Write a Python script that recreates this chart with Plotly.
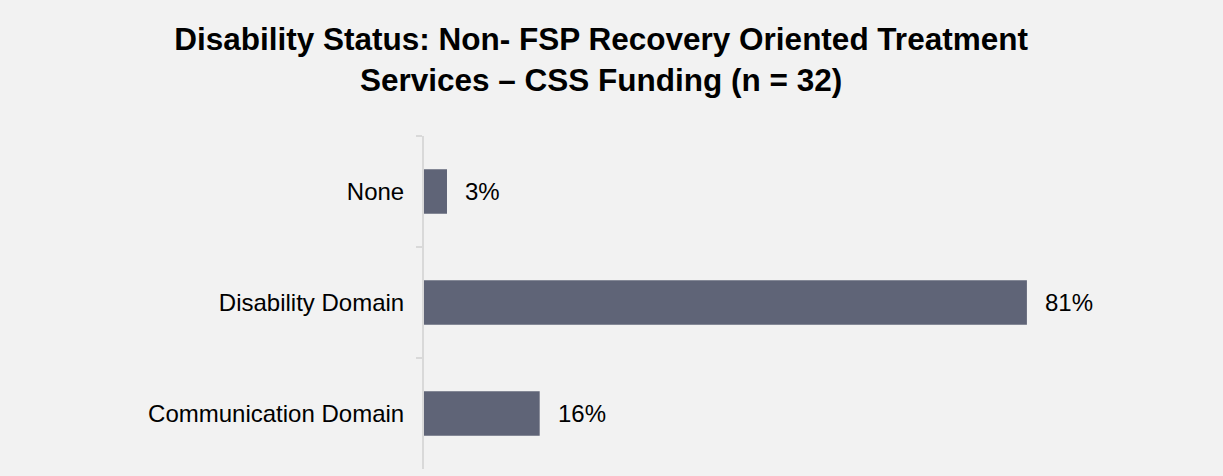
import plotly.graph_objects as go

categories = ["None", "Disability Domain", "Communication Domain"]
values = [3.1, 81.3, 15.6]
labels = ["3%", "81%", "16%"]

title_text = "<b>Disability Status: Non- FSP Recovery Oriented Treatment<br>Services – CSS Funding (n = 32)</b>"

fig = go.Figure()
fig.add_trace(go.Bar(
    x=values, y=categories, orientation="h",
    marker=dict(color="#5f6477", line=dict(width=0)),
    width=0.4, hoverinfo="skip",
))

for v, c, t in zip(values, categories, labels):
    fig.add_annotation(x=v, y=c, text=t, showarrow=False, xanchor="left",
                       xshift=16, font=dict(size=24, color="#000000",
                                             family="Liberation Sans, Arial"))

fig.update_layout(
    width=1223, height=476,
    paper_bgcolor="#f2f2f2", plot_bgcolor="#f2f2f2",
    margin=dict(l=424, r=73, t=136, b=7),
    showlegend=False,
    title=dict(text=title_text, xref="container", x=0.4915, xanchor="center",
               yref="container", y=0.894, yanchor="top",
               font=dict(size=31.5, color="#000000", family="Liberation Sans, Arial")),
    font=dict(family="Liberation Sans, Arial", size=24, color="#000000"),
    xaxis=dict(range=[0, 97.9], visible=False, showgrid=False, zeroline=False),
    yaxis=dict(categoryorder="array", categoryarray=categories, autorange="reversed",
               showline=True, linecolor="#d9d9d9", linewidth=2,
               ticks="outside", tickson="boundaries", ticklen=6, tickcolor="#d9d9d9",
               tickwidth=2, showgrid=False, ticklabelstandoff=13,
               tickfont=dict(size=24, color="#000000", family="Liberation Sans, Arial")),
)

fig.write_html("out.html", config={"displayModeBar": False},
               post_script="document.body.style.margin='0';")
